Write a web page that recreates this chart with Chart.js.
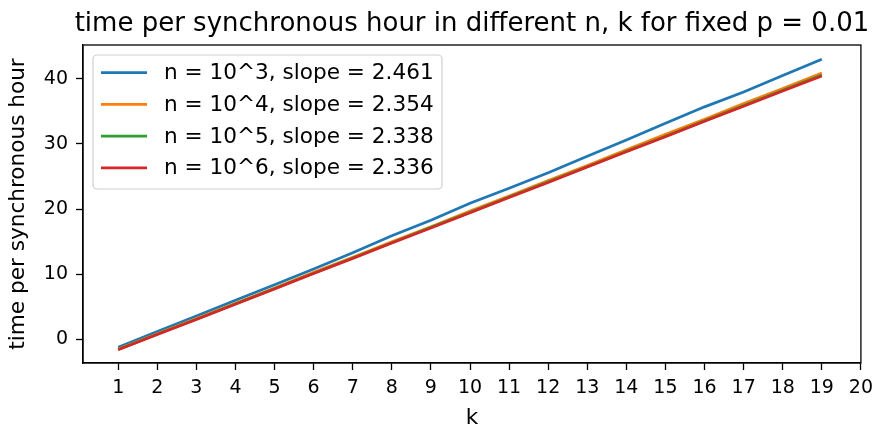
<!DOCTYPE html>
<html lang="en">
<head>
<meta charset="UTF-8">
<title>time per synchronous hour</title>
<script src="https://cdn.jsdelivr.net/npm/chart.js"></script>
<style>
  body { margin: 0; background: white; }
  #wrap { width: 880px; height: 426px; }
</style>
</head>
<body>
<div id="wrap"><canvas id="chart" width="880" height="426"></canvas></div>
<script>
// data
const kValues = [1, 2, 3, 4, 5, 6, 7, 8, 9, 10, 11, 12, 13, 14, 15, 16, 17, 18, 19];
const n3 = [-1.2, 1.2, 3.6, 6.0, 8.4, 10.8, 13.3, 15.9, 18.3, 20.9, 23.2, 25.6, 28.1, 30.6, 33.2, 35.7, 38.0, 40.5, 43.0];
const n4 = [-1.5, 0.85, 3.2, 5.55, 7.9, 10.3, 12.6, 15.0, 17.3, 19.7, 22.0, 24.4, 26.7, 29.1, 31.5, 33.8, 36.2, 38.5, 40.9];
const n5 = [-1.55, 0.8, 3.1, 5.45, 7.8, 10.15, 12.5, 14.85, 17.2, 19.5, 21.85, 24.2, 26.5, 28.9, 31.2, 33.55, 35.9, 38.25, 40.6];
const n6 = [-1.6, 0.75, 3.05, 5.4, 7.75, 10.1, 12.4, 14.8, 17.1, 19.45, 21.8, 24.1, 26.45, 28.8, 31.1, 33.5, 35.8, 38.15, 40.45];
const seriesLabels = ["n = 10^3, slope = 2.461", "n = 10^4, slope = 2.354", "n = 10^5, slope = 2.338", "n = 10^6, slope = 2.336"];
const xTicks = [1, 2, 3, 4, 5, 6, 7, 8, 9, 10, 11, 12, 13, 14, 15, 16, 17, 18, 19, 20];
const yTicks = [0, 10, 20, 30, 40];
const colors = ["#1f77b4", "#ff7f0e", "#2ca02c", "#d62728"];

const FONT = "'DejaVu Sans', sans-serif";

function toPoints(ys) {
  return ys.map((y, i) => ({ x: kValues[i], y: y }));
}

const allSeries = [n3, n4, n5, n6];
const datasets = allSeries.map((ys, i) => ({
  label: seriesLabels[i],
  data: toPoints(ys),
  borderColor: colors[i],
  backgroundColor: colors[i],
  borderWidth: 2.7,
  pointRadius: 0,
  tension: 0,
  order: allSeries.length - i // red ends up on top like matplotlib
}));

// frame, titles and the legend box
const decor = {
  id: "decor",
  afterDraw(chart) {
    const { ctx, chartArea: a } = chart;
    ctx.save();
    ctx.strokeStyle = "#000";
    ctx.lineWidth = 1.3;
    ctx.strokeRect(a.left, a.top, a.right - a.left, a.bottom - a.top);

    ctx.fillStyle = "#000";
    ctx.textAlign = "center";
    ctx.textBaseline = "alphabetic";
    ctx.font = "26px " + FONT;
    ctx.fillText("time per synchronous hour in different n, k for fixed p = 0.01", (a.left + a.right) / 2, 31);

    ctx.font = "21.6px " + FONT;
    ctx.fillText("k", (a.left + a.right) / 2, 424);

    ctx.save();
    ctx.translate(24, (a.top + a.bottom) / 2);
    ctx.rotate(-Math.PI / 2);
    ctx.fillText("time per synchronous hour", 0, 0);
    ctx.restore();

    // legend
    const bx = 93, by = 55, bw = 349, bh = 134, r = 4;
    ctx.beginPath();
    ctx.moveTo(bx + r, by);
    ctx.arcTo(bx + bw, by, bx + bw, by + bh, r);
    ctx.arcTo(bx + bw, by + bh, bx, by + bh, r);
    ctx.arcTo(bx, by + bh, bx, by, r);
    ctx.arcTo(bx, by, bx + bw, by, r);
    ctx.closePath();
    ctx.fillStyle = "rgba(255,255,255,0.8)";
    ctx.fill();
    ctx.strokeStyle = "#d0d0d0";
    ctx.lineWidth = 1.2;
    ctx.stroke();

    ctx.textAlign = "left";
    ctx.textBaseline = "middle";
    ctx.font = "21.6px " + FONT;
    chart.data.datasets.forEach((ds, i) => {
      const yy = 72.7 + i * 31.7;
      ctx.strokeStyle = ds.borderColor;
      ctx.lineWidth = 2.7;
      ctx.beginPath();
      ctx.moveTo(101, yy);
      ctx.lineTo(147, yy);
      ctx.stroke();
      ctx.fillStyle = "#000";
      ctx.fillText(ds.label, 164, yy + 1);
    });
    ctx.restore();
  }
};

new Chart(document.getElementById("chart").getContext("2d"), {
  type: "line",
  data: { datasets: datasets },
  options: {
    responsive: false,
    animation: false,
    devicePixelRatio: 1,
    layout: { padding: { top: 45, right: 17, left: 0, bottom: 0 } },
    plugins: { legend: { display: false }, title: { display: false }, tooltip: { enabled: false } },
    scales: {
      x: {
        type: "linear",
        min: 0.1,
        max: 20,
        afterFit: (s) => { s.height = 63; },
        afterBuildTicks: (s) => { s.ticks = xTicks.map((v) => ({ value: v })); },
        grid: { display: true, drawOnChartArea: false, drawTicks: true, tickLength: 7, tickWidth: 1.3, tickColor: "#000" },
        border: { display: true, color: "#000", width: 1.3 },
        ticks: { color: "#000", font: { family: FONT, size: 19 }, padding: 7, maxRotation: 0, autoSkip: false }
      },
      y: {
        type: "linear",
        min: -3.63,
        max: 45.2,
        afterFit: (s) => { s.width = 83; },
        afterBuildTicks: (s) => { s.ticks = yTicks.map((v) => ({ value: v })); },
        grid: { display: true, drawOnChartArea: false, drawTicks: true, tickLength: 7, tickWidth: 1.3, tickColor: "#000" },
        border: { display: true, color: "#000", width: 1.3 },
        ticks: { color: "#000", font: { family: FONT, size: 19 }, padding: 8 }
      }
    }
  },
  plugins: [decor]
});
</script>
</body>
</html>
